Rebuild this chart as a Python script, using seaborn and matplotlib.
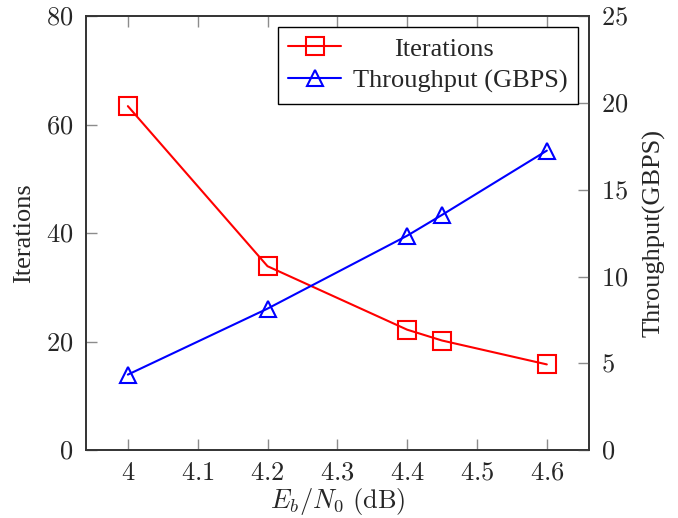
import matplotlib
matplotlib.use("Agg")
import matplotlib.pyplot as plt
import seaborn as sns
import pandas as pd

# Measured data
ebn0 = [4.0, 4.2, 4.4, 4.45, 4.6]
iterations = [63.4, 33.9, 22.2, 20.2, 15.8]
throughput = [4.35, 8.15, 12.35, 13.55, 17.25]

x_ticks = [4.0, 4.1, 4.2, 4.3, 4.4, 4.5, 4.6]
x_tick_labels = ["4", "4.1", "4.2", "4.3", "4.4", "4.5", "4.6"]
left_ticks = [0, 20, 40, 60, 80]
right_ticks = [0, 5, 10, 15, 20, 25]

df = pd.DataFrame({"ebn0": ebn0, "iterations": iterations, "throughput": throughput})

sns.set_style("white")
plt.rcParams["font.family"] = ["Liberation Serif", "DejaVu Serif"]
plt.rcParams["mathtext.fontset"] = "cm"

TEXT_SIZE = 19
TICK_SIZE = 19
SPINE = "#333333"
TICK_COLOR = "#8c8c8c"

fig = plt.figure(figsize=(6.78, 5.18), dpi=100)
ax = fig.add_axes([0.1268, 0.131, 0.7415, 0.838])
ax2 = ax.twinx()

sns.lineplot(data=df, x="ebn0", y="iterations", ax=ax, color="red",
             marker="s", markersize=13, markerfacecolor="none",
             markeredgecolor="red", markeredgewidth=1.5, linewidth=1.5,
             label="Iterations", legend=False)
sns.lineplot(data=df, x="ebn0", y="throughput", ax=ax2, color="blue",
             marker="^", markersize=12, markerfacecolor="none",
             markeredgecolor="blue", markeredgewidth=1.5, linewidth=1.5,
             label="Throughput (GBPS)", legend=False)

ax.set_xlim(3.94, 4.66)
ax.set_ylim(0, 80)
ax2.set_ylim(0, 25)

ax.set_xticks(x_ticks)
ax.set_xticklabels([f"${t}$" for t in x_tick_labels])
ax.set_yticks(left_ticks)
ax.set_yticklabels([f"${t}$" for t in left_ticks])
ax2.set_yticks(right_ticks)
ax2.set_yticklabels([f"${t}$" for t in right_ticks])

ax.tick_params(axis="x", direction="in", length=8, width=1.0, color=TICK_COLOR,
               top=True, bottom=True, labelsize=TICK_SIZE, pad=9)
ax.tick_params(axis="y", direction="in", length=8, width=1.0, color=TICK_COLOR,
               left=True, right=False, labelsize=TICK_SIZE, pad=9)
ax2.tick_params(axis="y", direction="in", length=8, width=1.0, color=TICK_COLOR,
                right=True, left=False, labelsize=TICK_SIZE, pad=9)

for a in (ax, ax2):
    for s in a.spines.values():
        s.set_color(SPINE)
        s.set_linewidth(1.2)

ax.set_xlabel(r"$E_b/N_0\ \mathrm{(dB)}$", fontsize=TEXT_SIZE, labelpad=1)
ax.set_ylabel("Iterations", fontsize=TEXT_SIZE, labelpad=8)
ax2.set_ylabel("Throughput(GBPS)", fontsize=TEXT_SIZE, labelpad=10)

handles = ax.get_lines()[:1] + ax2.get_lines()[:1]
labels = ["Iterations", "Throughput (GBPS)"]
leg = ax2.legend(handles, labels, loc="upper right", fontsize=TEXT_SIZE,
                 frameon=True, fancybox=False, edgecolor="black",
                 framealpha=1, borderaxespad=0.4, borderpad=0.4,
                 handlelength=2.0, handletextpad=0.45, labelspacing=0.32)
leg.get_frame().set_linewidth(1.0)

# Center the legend entries like a centered text column
fig.canvas.draw()
r = fig.canvas.get_renderer()
texts = leg.get_texts()
widths = [t.get_window_extent(r).width for t in texts]
wmax = max(widths)
for t, w in zip(texts, widths):
    t.set_x((wmax - w) / 2 * 72 / fig.dpi)

fig.savefig("out.png", dpi=100)
